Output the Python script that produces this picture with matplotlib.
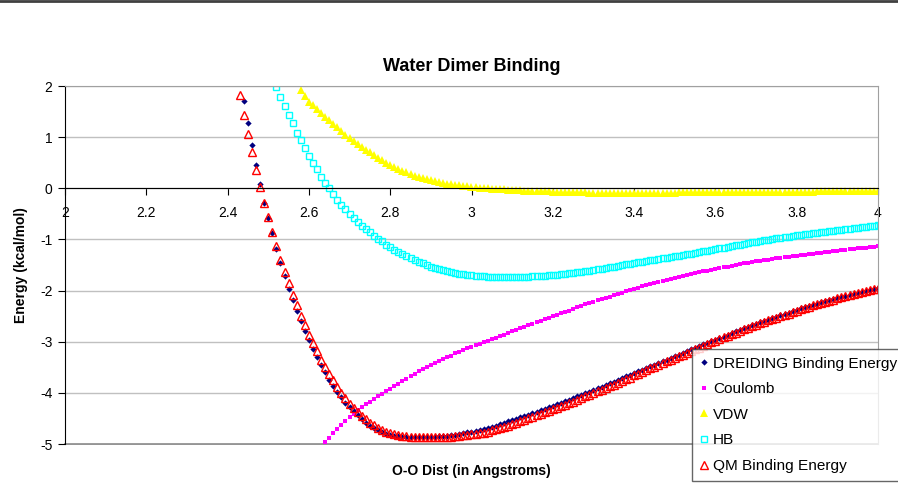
import numpy as np
import matplotlib
matplotlib.use("Agg")
import matplotlib.pyplot as plt
from matplotlib.lines import Line2D

plt.rcParams['font.family'] = ['Liberation Sans', 'DejaVu Sans']
plt.rcParams['axes.unicode_minus'] = False

# O-O distance grid (Angstrom), every series is sampled on it and ends at 4.00
dist = np.round(np.arange(2.43, 4.0001, 0.01), 2)

# energies in kcal/mol (only the points inside the axes)
dreiding = [
    1.71, 1.27, 0.84, 0.46, 0.08, -0.28, -0.58, -0.88, -1.18, -1.46,
    -1.72, -1.96, -2.19, -2.40, -2.59, -2.79, -2.97, -3.15, -3.30, -3.46,
    -3.59, -3.74, -3.86, -3.98, -4.09, -4.19, -4.27, -4.36, -4.44, -4.51,
    -4.58, -4.64, -4.69, -4.73, -4.77, -4.80, -4.82, -4.84, -4.85, -4.86,
    -4.87, -4.87, -4.87, -4.87, -4.87, -4.87, -4.86, -4.86, -4.85, -4.85,
    -4.84, -4.83, -4.82, -4.80, -4.79, -4.77, -4.76, -4.74, -4.72, -4.70,
    -4.68, -4.66, -4.64, -4.61, -4.59, -4.56, -4.54, -4.51, -4.48, -4.46,
    -4.43, -4.40, -4.37, -4.34, -4.31, -4.28, -4.25, -4.22, -4.19, -4.16,
    -4.13, -4.10, -4.07, -4.04, -4.01, -3.98, -3.94, -3.91, -3.88, -3.85,
    -3.81, -3.78, -3.75, -3.71, -3.68, -3.65, -3.61, -3.58, -3.55, -3.51,
    -3.48, -3.45, -3.41, -3.38, -3.35, -3.31, -3.28, -3.25, -3.22, -3.18,
    -3.15, -3.12, -3.09, -3.05, -3.02, -2.99, -2.96, -2.93, -2.90, -2.86,
    -2.83, -2.80, -2.77, -2.74, -2.71, -2.68, -2.65, -2.62, -2.59, -2.57,
    -2.54, -2.51, -2.48, -2.46, -2.43, -2.40, -2.38, -2.35, -2.33, -2.30,
    -2.28, -2.26, -2.23, -2.21, -2.18, -2.16, -2.14, -2.12, -2.10, -2.08,
    -2.06, -2.04, -2.02, -2.00, -1.98, -1.96, -1.95,
]

coulomb = [
    -4.96, -4.88, -4.79, -4.71, -4.63, -4.55, -4.48, -4.41, -4.34, -4.28,
    -4.22, -4.17, -4.12, -4.07, -4.02, -3.97, -3.92, -3.87, -3.82, -3.77,
    -3.72, -3.68, -3.63, -3.58, -3.54, -3.50, -3.46, -3.42, -3.38, -3.34,
    -3.30, -3.27, -3.23, -3.20, -3.16, -3.13, -3.10, -3.07, -3.04, -3.01,
    -2.98, -2.95, -2.92, -2.89, -2.86, -2.83, -2.80, -2.77, -2.74, -2.71,
    -2.68, -2.65, -2.62, -2.59, -2.56, -2.53, -2.50, -2.47, -2.44, -2.41,
    -2.39, -2.36, -2.33, -2.30, -2.27, -2.25, -2.22, -2.19, -2.17, -2.14,
    -2.12, -2.09, -2.06, -2.04, -2.01, -1.99, -1.96, -1.94, -1.92, -1.90,
    -1.88, -1.86, -1.83, -1.81, -1.79, -1.77, -1.75, -1.73, -1.71, -1.70,
    -1.68, -1.66, -1.64, -1.62, -1.61, -1.59, -1.57, -1.56, -1.54, -1.53,
    -1.51, -1.50, -1.49, -1.47, -1.46, -1.44, -1.43, -1.42, -1.41, -1.40,
    -1.39, -1.37, -1.36, -1.35, -1.34, -1.33, -1.32, -1.31, -1.30, -1.29,
    -1.28, -1.27, -1.26, -1.25, -1.24, -1.23, -1.22, -1.21, -1.20, -1.19,
    -1.18, -1.17, -1.17, -1.16, -1.15, -1.14, -1.13,
]

vdw = [
    1.92, 1.80, 1.69, 1.62, 1.55, 1.47, 1.40, 1.33, 1.26, 1.19,
    1.12, 1.05, 0.99, 0.93, 0.87, 0.81, 0.75, 0.70, 0.65, 0.60,
    0.55, 0.50, 0.46, 0.42, 0.38, 0.34, 0.31, 0.28, 0.25, 0.23,
    0.20, 0.18, 0.16, 0.14, 0.12, 0.11, 0.09, 0.08, 0.07, 0.06,
    0.05, 0.04, 0.03, 0.02, 0.01, 0.01, 0.00, -0.01, -0.01, -0.02,
    -0.02, -0.03, -0.03, -0.04, -0.04, -0.05, -0.05, -0.05, -0.06, -0.06,
    -0.06, -0.06, -0.07, -0.07, -0.08, -0.08, -0.08, -0.08, -0.08, -0.08,
    -0.08, -0.09, -0.09, -0.09, -0.09, -0.09, -0.09, -0.09, -0.09, -0.09,
    -0.09, -0.09, -0.09, -0.09, -0.09, -0.09, -0.09, -0.09, -0.09, -0.09,
    -0.09, -0.09, -0.09, -0.08, -0.08, -0.08, -0.08, -0.08, -0.08, -0.08,
    -0.08, -0.08, -0.08, -0.08, -0.08, -0.08, -0.08, -0.08, -0.08, -0.08,
    -0.08, -0.08, -0.08, -0.07, -0.07, -0.07, -0.07, -0.07, -0.07, -0.07,
    -0.07, -0.07, -0.07, -0.07, -0.07, -0.07, -0.07, -0.06, -0.06, -0.06,
    -0.06, -0.06, -0.06, -0.06, -0.06, -0.06, -0.06, -0.06, -0.06, -0.06,
    -0.06, -0.06, -0.06,
]

hb = [
    1.98, 1.79, 1.61, 1.43, 1.27, 1.09, 0.95, 0.78, 0.63, 0.50,
    0.37, 0.23, 0.11, 0.00, -0.11, -0.22, -0.32, -0.41, -0.50, -0.58,
    -0.66, -0.73, -0.80, -0.86, -0.93, -0.99, -1.04, -1.10, -1.15, -1.20,
    -1.24, -1.28, -1.33, -1.37, -1.40, -1.44, -1.47, -1.50, -1.53, -1.55,
    -1.58, -1.60, -1.62, -1.64, -1.66, -1.67, -1.68, -1.69, -1.70, -1.71,
    -1.72, -1.72, -1.73, -1.73, -1.73, -1.73, -1.73, -1.73, -1.73, -1.73,
    -1.73, -1.73, -1.73, -1.72, -1.72, -1.71, -1.71, -1.70, -1.70, -1.69,
    -1.68, -1.67, -1.66, -1.65, -1.64, -1.63, -1.62, -1.61, -1.59, -1.58,
    -1.57, -1.55, -1.54, -1.53, -1.52, -1.50, -1.49, -1.48, -1.46, -1.45,
    -1.44, -1.42, -1.41, -1.40, -1.38, -1.37, -1.36, -1.34, -1.33, -1.32,
    -1.30, -1.29, -1.28, -1.26, -1.25, -1.23, -1.22, -1.20, -1.19, -1.17,
    -1.16, -1.14, -1.13, -1.11, -1.10, -1.09, -1.07, -1.06, -1.05, -1.03,
    -1.02, -1.01, -0.99, -0.98, -0.97, -0.96, -0.95, -0.94, -0.92, -0.91,
    -0.90, -0.89, -0.88, -0.87, -0.86, -0.85, -0.84, -0.83, -0.82, -0.81,
    -0.80, -0.79, -0.78, -0.77, -0.76, -0.75, -0.74, -0.73, -0.72,
]

qm = [
    1.82, 1.43, 1.06, 0.70, 0.36, 0.02, -0.28, -0.57, -0.86, -1.13,
    -1.40, -1.63, -1.86, -2.08, -2.29, -2.49, -2.67, -2.86, -3.03, -3.19,
    -3.35, -3.49, -3.63, -3.75, -3.88, -4.00, -4.11, -4.21, -4.29, -4.37,
    -4.45, -4.52, -4.58, -4.63, -4.68, -4.72, -4.76, -4.79, -4.81, -4.83,
    -4.84, -4.85, -4.86, -4.86, -4.87, -4.87, -4.87, -4.87, -4.87, -4.87,
    -4.87, -4.86, -4.86, -4.85, -4.84, -4.83, -4.82, -4.81, -4.80, -4.79,
    -4.78, -4.76, -4.73, -4.71, -4.69, -4.66, -4.64, -4.61, -4.58, -4.55,
    -4.53, -4.50, -4.47, -4.44, -4.41, -4.38, -4.35, -4.32, -4.29, -4.26,
    -4.23, -4.20, -4.17, -4.14, -4.11, -4.07, -4.04, -4.01, -3.97, -3.94,
    -3.91, -3.87, -3.84, -3.80, -3.77, -3.73, -3.70, -3.66, -3.63, -3.59,
    -3.56, -3.52, -3.49, -3.45, -3.42, -3.38, -3.35, -3.32, -3.28, -3.25,
    -3.22, -3.18, -3.15, -3.12, -3.08, -3.05, -3.01, -2.98, -2.95, -2.91,
    -2.88, -2.85, -2.82, -2.79, -2.76, -2.73, -2.70, -2.67, -2.64, -2.61,
    -2.58, -2.56, -2.53, -2.50, -2.47, -2.45, -2.42, -2.40, -2.37, -2.34,
    -2.32, -2.29, -2.27, -2.25, -2.22, -2.20, -2.18, -2.15, -2.13, -2.11,
    -2.09, -2.07, -2.05, -2.03, -2.01, -1.99, -1.97, -1.96,
]

fig = plt.figure(figsize=(8.98, 4.98), dpi=100)
ax = fig.add_axes([65 / 898, 1 - 444 / 498, 813 / 898, 358 / 498])

ax.plot(dist[-len(dreiding):], dreiding, 'D', color='#000080', ms=3.2, mew=0,
        label='DREIDING Binding Energy')
ax.plot(dist[-len(coulomb):], coulomb, 's', color='#ff00ff', ms=3.0, mew=0,
        label='Coulomb')
ax.plot(dist[-len(vdw):], vdw, '^', color='#ffff00', ms=5.5, mew=0,
        label='VDW')
ax.plot(dist[-len(hb):], hb, 's', mfc='none', mec='#00ffff', ms=4.5, mew=1.0,
        label='HB')
ax.plot(dist[-len(qm):], qm, '^', mfc='none', mec='#ff0000', ms=6, mew=1.0,
        label='QM Binding Energy')

ax.set_xlim(2, 4)
ax.set_ylim(-5, 2)
ax.set_xticks(np.arange(2, 4.01, 0.2))
ax.set_xticklabels(['2', '2.2', '2.4', '2.6', '2.8', '3', '3.2', '3.4', '3.6', '3.8', '4'])
ax.set_yticks(range(-5, 3))

# Excel style: category axis crosses at zero, plot area framed in grey
ax.grid(axis='y', color='#c0c0c0', lw=1)
ax.set_axisbelow(True)
ax.spines['bottom'].set_position(('data', 0))
ax.spines['bottom'].set_color('black')
ax.spines['left'].set_color('black')
for s in ('top', 'right'):
    ax.spines[s].set_color('#a0a0a0')
ax.axhline(-5, color='#808080', lw=1.2, clip_on=False, zorder=0.5)

ax.tick_params(axis='x', direction='out', length=5, pad=8, labelsize=10,
               color='black')
ax.tick_params(axis='y', direction='out', length=5, pad=4, labelsize=10,
               color='black')

ax.set_title('Water Dimer Binding', fontsize=13, fontweight='bold', pad=11)
fig.text(471 / 898, 1 - 471 / 498, 'O-O Dist (in Angstroms)', ha='center',
         va='center', fontsize=10, fontweight='bold')
fig.text(21 / 898, 1 - 265 / 498, 'Energy (kcal/mol)', ha='center',
         va='center', rotation=90, fontsize=10, fontweight='bold')

leg = ax.legend(loc='upper left', bbox_to_anchor=(692 / 898, 1 - 349 / 498),
                bbox_transform=fig.transFigure, fontsize=11.1, frameon=True,
                fancybox=False, shadow=False, handlelength=0.55,
                handletextpad=0.3, borderpad=0.5, labelspacing=0.75,
                borderaxespad=0)
leg.get_frame().set_edgecolor('#404040')
leg.get_frame().set_linewidth(1.0)

# dark rule along the top edge of the picture
fig.add_artist(Line2D([0, 1], [1 - 1 / 498, 1 - 1 / 498],
                      transform=fig.transFigure, color='#404040', lw=2))

fig.savefig('out.png', dpi=100)
